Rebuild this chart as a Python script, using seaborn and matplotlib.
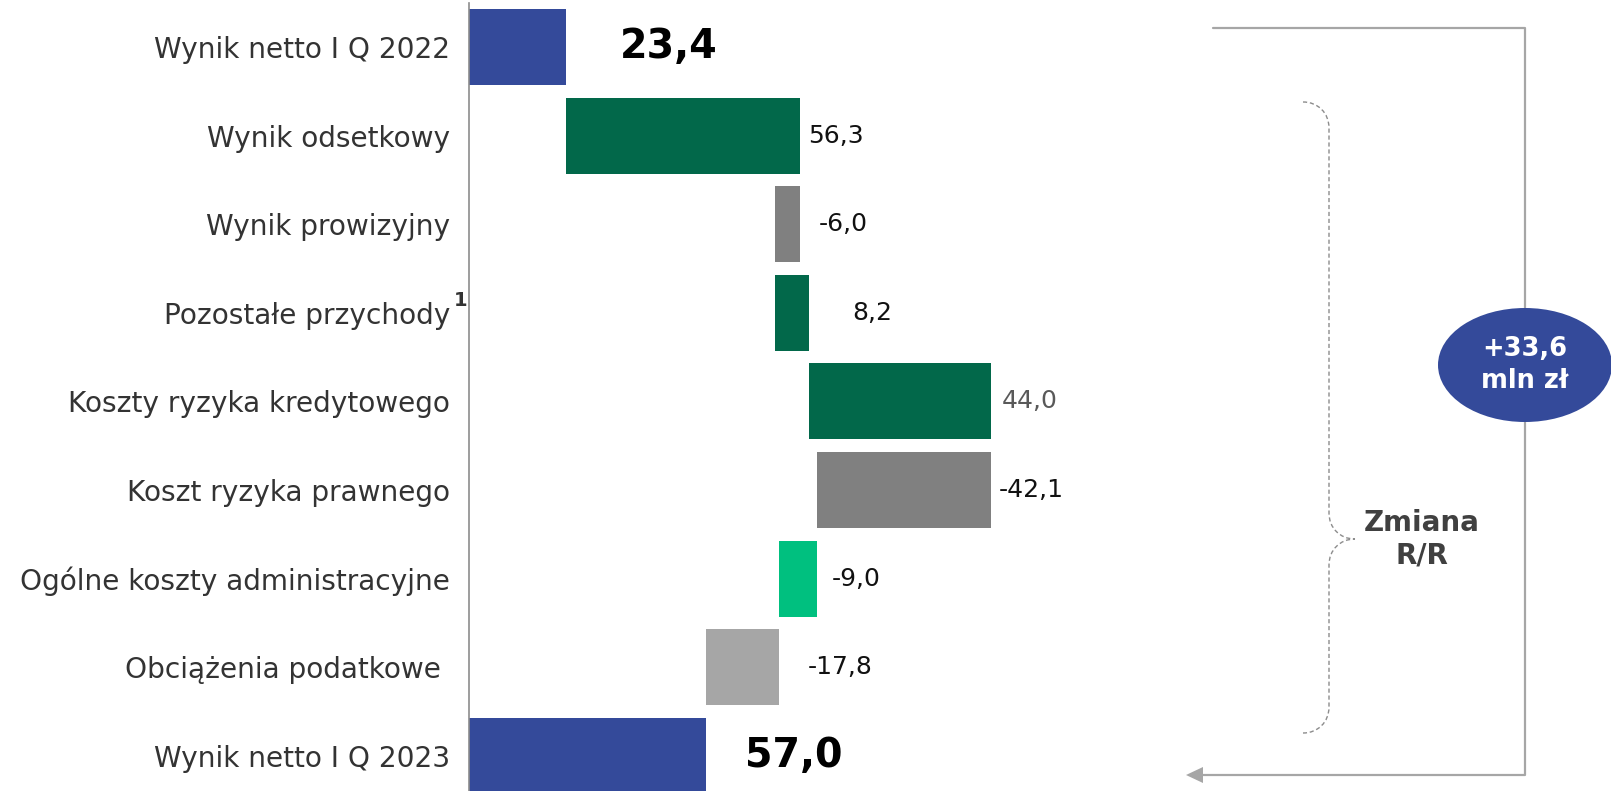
import numpy as np
import pandas as pd
import matplotlib
matplotlib.use("Agg")
import matplotlib.pyplot as plt
import seaborn as sns
from matplotlib.patches import Ellipse, Polygon, PathPatch
from matplotlib.path import Path
from matplotlib.lines import Line2D
import matplotlib.transforms as mtransforms

# ---------------- data ----------------
categories = ["Wynik netto I Q 2022", "Wynik odsetkowy", "Wynik prowizyjny",
              "Pozostałe przychody", "Koszty ryzyka kredytowego",
              "Koszt ryzyka prawnego", "Ogólne koszty administracyjne",
              "Obciążenia podatkowe ", "Wynik netto I Q 2023"]
values = [23.4, 56.3, -6.0, 8.2, 44.0, -42.1, -9.0, -17.8, 57.0]
is_total = [True, False, False, False, False, False, False, False, True]
change_text = "+33,6\nmln zł"
change_label = "Zmiana\nR/R"
footnote = "1"

# ---------------- styles ----------------
bar_colors = ["#344A9A", "#02684A", "#808080", "#02684A", "#02684A",
              "#808080", "#00C07F", "#A6A6A6", "#344A9A"]
label_colors = ["#000000", "#111111", "#111111", "#111111", "#595959",
                "#111111", "#111111", "#111111", "#000000"]
label_pad_px = [54, 8, 19, 43, 10, 7, 15, 28, 39]

W, H = 1611, 791
sns.set_theme(style="white")
plt.rcParams["font.family"] = ["DejaVu Sans"]

# waterfall geometry from values
lefts, spans, rights = [], [], []
run = 0.0
for v, t in zip(values, is_total):
    if t:
        s, e = 0.0, v
    else:
        s, e = run, run + v
    run = e
    lefts.append(min(s, e))
    spans.append(abs(e - s))
    rights.append(max(s, e))

df = pd.DataFrame({"category": categories, "span": spans, "left": lefts})

fig = plt.figure(figsize=(W / 100, H / 100), dpi=100)
ax = fig.add_axes([469 / W, 0, (W - 469) / W, (H - 3) / H])

sns.barplot(data=df, x="span", y="category", orient="h",
            left=df["left"].to_numpy(), width=0.858, errorbar=None,
            color="#344A9A", ax=ax)
for p, c in zip(ax.patches, bar_colors):
    p.set_facecolor(c)
    p.set_edgecolor("none")

px_per_unit = 4.15
ax.set_xlim(0, (W - 469) / px_per_unit)
ax.set_ylim((H - 47) / 88.6, -(47 - 3) / 88.6)
ax.set_xlabel("")
ax.set_ylabel("")
ax.set_xticks([])
for s in ["top", "right", "bottom"]:
    ax.spines[s].set_visible(False)
ax.spines["left"].set_color("#8c8c8c")
ax.spines["left"].set_linewidth(1.2)
ax.tick_params(axis="y", length=0, pad=13.7, labelsize=20.2, labelcolor="#333333")

for i, v in enumerate(values):
    txt = f"{v:.1f}".replace(".", ",")
    if is_total[i]:
        kw = dict(fontsize=28.5, fontweight="bold")
    else:
        kw = dict(fontsize=18)
    ax.annotate(txt, xy=(rights[i], i), xytext=(label_pad_px[i] * 0.72, 0),
                textcoords="offset points", ha="left", va="center",
                color=label_colors[i], **kw)

# ---------------- side annotations (pixel coords) ----------------
px = mtransforms.Affine2D().scale(1 / W, -1 / H).translate(0, 1) + fig.transFigure

fig.add_artist(Line2D([1213, 1525, 1525, 1200], [28, 28, 775, 775],
                      transform=px, color="#A6A6A6", lw=1.6, zorder=2))
fig.add_artist(Polygon([(1186, 775), (1203, 767), (1203, 783)], closed=True,
                       transform=px, facecolor="#A6A6A6", edgecolor="none", zorder=2))
fig.add_artist(Ellipse((1525, 365), 174, 114, transform=px,
                       facecolor="#344A9A", edgecolor="none", zorder=3))
fig.text(1525, 365, change_text, transform=px, ha="center", va="center",
         color="white", fontsize=18.5, fontweight="bold", linespacing=1.25, zorder=4)

verts = [(1303, 102), (1318, 102), (1329, 113), (1329, 128),
         (1329, 513),
         (1329, 528), (1340, 539), (1355, 539),
         (1340, 539), (1329, 550), (1329, 565),
         (1329, 707),
         (1329, 722), (1318, 733), (1303, 733)]
codes = [Path.MOVETO, Path.CURVE4, Path.CURVE4, Path.CURVE4,
         Path.LINETO,
         Path.CURVE4, Path.CURVE4, Path.CURVE4,
         Path.CURVE4, Path.CURVE4, Path.CURVE4,
         Path.LINETO,
         Path.CURVE4, Path.CURVE4, Path.CURVE4]
fig.add_artist(PathPatch(Path(verts, codes), transform=px, fill=False,
                         edgecolor="#8c8c8c", lw=1.0, linestyle=(0, (3, 2))))
fig.text(1422, 539, change_label, transform=px, ha="center", va="center",
         color="#404040", fontsize=20, fontweight="bold", linespacing=1.2)

fig.text(461, 301, footnote, transform=px, ha="center", va="center",
         color="#333333", fontsize=14, fontweight="bold")

fig.savefig("out.png", dpi=100)
